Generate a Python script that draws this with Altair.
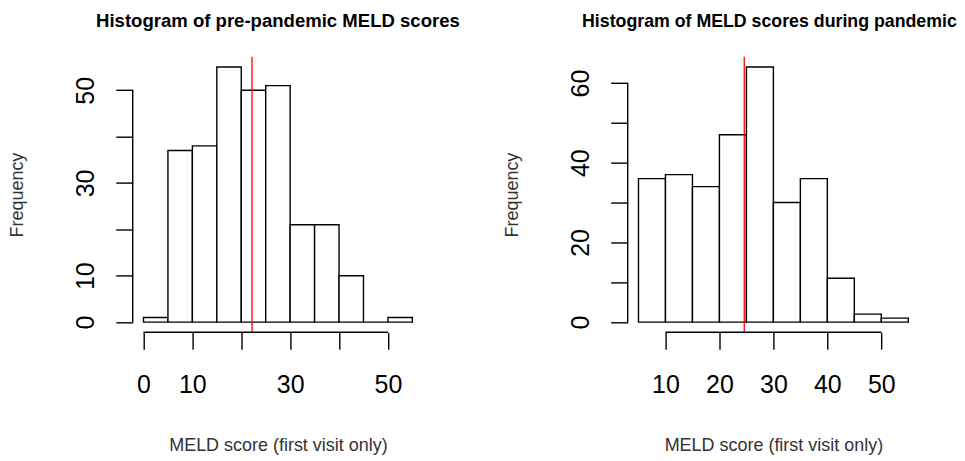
import altair as alt
import pandas as pd

# ---------------- data ----------------
bin_width = 5

pre_title = "Histogram of pre-pandemic MELD scores"
pre_bin_starts = [0, 5, 10, 15, 20, 25, 30, 35, 40, 45, 50]
pre_counts = [1, 37, 38, 55, 50, 51, 21, 21, 10, 0, 1]
pre_mean = 22.2
pre_x_ticks = [0, 10, 20, 30, 40, 50]
pre_x_labels = [0, 10, 30, 50]
pre_y_ticks = [0, 10, 20, 30, 40, 50]
pre_y_labels = [0, 10, 30, 50]

during_title = "Histogram of MELD scores during pandemic"
during_bin_starts = [5, 10, 15, 20, 25, 30, 35, 40, 45, 50]
during_counts = [36, 37, 34, 47, 64, 30, 36, 11, 2, 1]
during_mean = 24.6
during_x_ticks = [10, 20, 30, 40, 50]
during_x_labels = [10, 20, 30, 40, 50]
during_y_ticks = [0, 10, 20, 30, 40, 50, 60]
during_y_labels = [0, 20, 40, 60]

x_title = "MELD score (first visit only)"
y_title = "Frequency"

FONT = "Liberation Sans"
LW = 1.4
PLOT_H = 276


def label_expr(shown):
    arr = "[" + ",".join(str(v) for v in shown) + "]"
    return f"indexof({arr}, datum.value) >= 0 ? datum.label : ''"


def panel(starts, counts, mean, xt, xl, yt, yl, title, w, title_size, title_dx):
    h = PLOT_H
    df = pd.DataFrame({
        "start": starts,
        "end": [s + bin_width for s in starts],
        "count": counts,
    })
    x_lo, x_hi = starts[0], starts[-1] + bin_width
    x_pad = 0.04 * (x_hi - x_lo)
    y_pad = 0.04 * max(counts)
    x_scale = alt.Scale(domain=[x_lo - x_pad, x_hi + x_pad], nice=False, zero=False)
    y_scale = alt.Scale(domain=[-y_pad, max(counts) + y_pad], nice=False, zero=False)

    x_axis = alt.Axis(
        values=xt, labelExpr=label_expr(xl), title=x_title,
        grid=False, domain=False, tickSize=17, tickWidth=LW, tickColor="black",
        labelFont=FONT, labelFontSize=25, labelColor="black", labelAngle=0,
        labelAlign="center", labelBaseline="alphabetic", labelPadding=43,
        labelFlush=False, labelOverlap=False,
        titleFont=FONT, titleFontSize=18, titleFontWeight="normal", titleColor="#333333",
        titleAlign="center", titleBaseline="alphabetic", titleX=w / 2, titleY=118,
    )
    y_axis = alt.Axis(
        values=yt, labelExpr=label_expr(yl), title=y_title,
        grid=False, domain=False, tickSize=17, tickWidth=LW, tickColor="black",
        labelFont=FONT, labelFontSize=25, labelColor="black", labelAngle=270,
        labelAlign="center", labelBaseline="alphabetic", labelPadding=22,
        labelFlush=False, labelOverlap=False,
        titleFont=FONT, titleFontSize=18, titleFontWeight="normal", titleColor="#333333",
        titleAngle=270, titleAlign="center", titleBaseline="bottom",
        titleX=-106, titleY=h / 2,
    )

    bars = alt.Chart(df).mark_rect(fill="white", stroke="black", strokeWidth=LW).encode(
        x=alt.X("start:Q", scale=x_scale, axis=x_axis),
        x2="end:Q",
        y=alt.Y("count:Q", scale=y_scale, axis=y_axis),
        y2=alt.datum(0),
    )
    x_line = alt.Chart(pd.DataFrame({"lo": [xt[0]], "hi": [xt[-1]]})).mark_rule(
        color="black", strokeWidth=LW
    ).encode(
        x=alt.X("lo:Q", scale=x_scale, axis=x_axis), x2="hi:Q", y=alt.value(h)
    )
    y_line = alt.Chart(pd.DataFrame({"lo": [yt[0]], "hi": [yt[-1]]})).mark_rule(
        color="black", strokeWidth=LW
    ).encode(
        y=alt.Y("lo:Q", scale=y_scale, axis=y_axis), y2="hi:Q", x=alt.value(0)
    )
    mean_line = alt.Chart(pd.DataFrame({"m": [mean]})).mark_rule(
        color="#ff0000", strokeWidth=1.3
    ).encode(x=alt.X("m:Q", scale=x_scale, axis=x_axis))

    return alt.layer(bars, mean_line, x_line, y_line).properties(
        width=w, height=h,
        title=alt.TitleParams(
            text=title, font=FONT, fontSize=title_size, fontWeight="bold", color="black",
            anchor="middle", baseline="alphabetic", offset=11, dx=title_dx,
        ),
    )


left = panel(pre_bin_starts, pre_counts, pre_mean, pre_x_ticks, pre_x_labels,
             pre_y_ticks, pre_y_labels, pre_title, 291, 18.6, 0)
right = panel(during_bin_starts, during_counts, during_mean, during_x_ticks,
              during_x_labels, during_y_ticks, during_y_labels, during_title, 292, 17.8, -4)

chart = alt.hconcat(left, right, spacing=205, bounds="flush").properties(
    padding={"left": 1, "top": 2.5, "right": 0, "bottom": 0},
    background="white",
).configure_view(stroke=None)

chart.save("out.html", embed_options={"renderer": "svg", "actions": False})
